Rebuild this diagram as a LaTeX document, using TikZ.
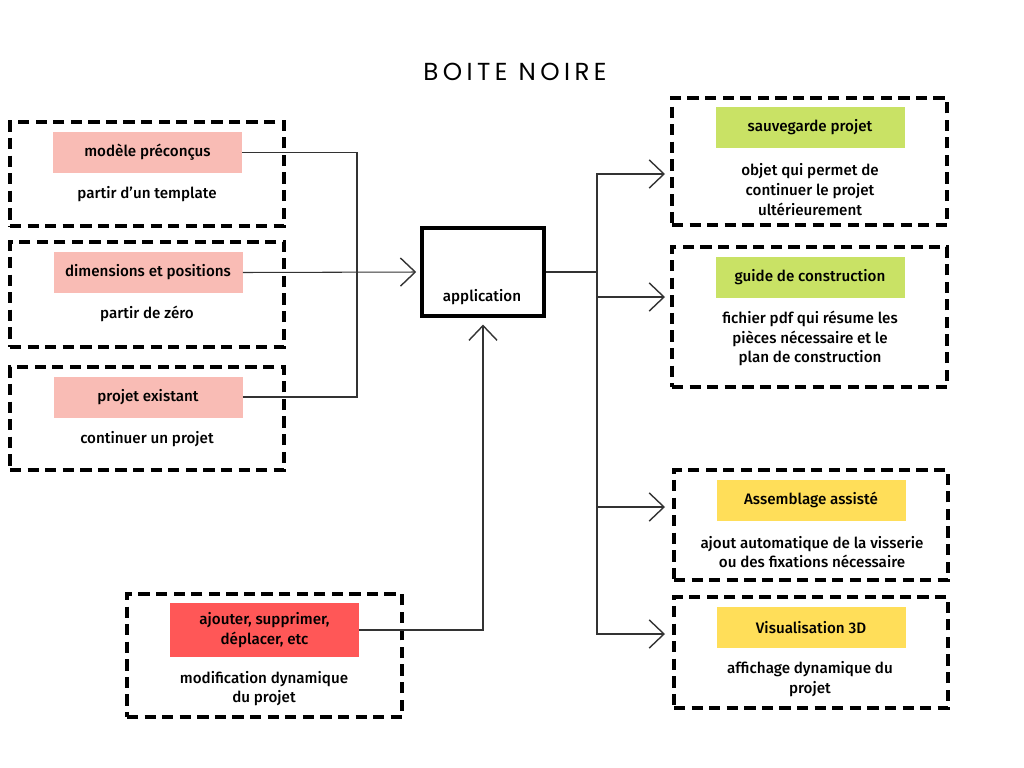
\documentclass[tikz,border=0pt]{standalone}
\usepackage{fontspec}
\setmainfont{Fira Sans}[UprightFont=* Medium]
\newfontfamily\titlefont{Poppins}[LetterSpace=18]
\usetikzlibrary{arrows.meta}
\def\px{0.025cm}
\definecolor{pinklbl}{HTML}{F9BCB5}
\definecolor{greenlbl}{HTML}{C9E265}
\definecolor{yellowlbl}{HTML}{FFDE59}
\definecolor{redlbl}{HTML}{FF5757}
\tikzset{
  dashbox/.style={draw, line width=2.7pt, dash pattern=on 8pt off 4.5pt, inner sep=0pt},
  lbl/.style={fill=#1, minimum width=189*\px, minimum height=41*\px, inner sep=0pt, align=center, font=\fontsize{10.8}{14}\selectfont},
  txt/.style={align=center, inner sep=0pt, font=\fontsize{10.8}{14}\selectfont},
  link/.style={draw=black!80, line width=0.75pt},
  arr/.style={link, -{Straight Barb[length=10.5pt, width=20pt, line width=1pt]}},
}
\begin{document}
\begin{tikzpicture}[x=0.025cm, y=-0.025cm]
		%%%%% START %%%%%
		\useasboundingbox (0, 0) rectangle (1024, 768);
		
		\node[font=\titlefont\fontsize{17.5}{19}\selectfont] (title) at (515, 72) {BOITE NOIRE};
		
		% entrees
		\node[dashbox, minimum width=274*\px, minimum height=104*\px] (in1) at (147, 174) {};
		\node[lbl=pinklbl] (m1) at (147.5, 152.5) {modèle préconçus};
		\node[txt] (d1) at (147, 194) {partir d'un template};
		
		\node[dashbox, minimum width=274*\px, minimum height=105*\px] (in2) at (147, 294.5) {};
		\node[lbl=pinklbl] (m2) at (148, 272.5) {dimensions et positions};
		\node[txt] (d2) at (147, 314) {partir de zéro};
		
		\node[dashbox, minimum width=274*\px, minimum height=103*\px] (in3) at (147, 418.5) {};
		\node[lbl=pinklbl] (m3) at (148, 397) {projet existant};
		\node[txt] (d3) at (147, 439) {continuer un projet};
		
		\node[dashbox, minimum width=275*\px, minimum height=123*\px] (in4) at (264.5, 655.5) {};
		\node[lbl=redlbl, minimum width=189*\px, minimum height=54*\px] (m4) at (264.5, 630) {ajouter, supprimer,\\déplacer, etc};
		\node[txt] (d4) at (264, 688.5) {modification dynamique\\du projet};
		
		% application
		\node[draw, line width=2.2pt, minimum width=122*\px, minimum height=88*\px] (app) at (483, 272) {};
		\node[txt] (applbl) at (482, 297) {application};
		
		% sorties
		\node[dashbox, minimum width=275*\px, minimum height=127*\px] (out1) at (809.5, 161.5) {};
		\node[lbl=greenlbl] (s1) at (810, 127.5) {sauvegarde projet};
		\node[txt] (e1) at (810, 189.5) {objet qui permet de\\continuer le projet\\ultérieurement};
		
		\node[dashbox, minimum width=275*\px, minimum height=140*\px] (out2) at (809.5, 317) {};
		\node[lbl=greenlbl] (s2) at (810, 277) {guide de construction};
		\node[txt] (e2) at (810, 338.5) {fichier pdf qui résume les\\pièces nécessaire et le\\plan de construction};
		
		\node[dashbox, minimum width=274*\px, minimum height=110*\px] (out3) at (811, 525) {};
		\node[lbl=yellowlbl] (s3) at (811, 500) {Assemblage assisté};
		\node[txt] (e3) at (812, 552) {ajout automatique de la visserie\\ou des fixations nécessaire};
		
		\node[dashbox, minimum width=274*\px, minimum height=111*\px] (out4) at (811, 652.5) {};
		\node[lbl=yellowlbl] (s4) at (811, 627.5) {Visualisation 3D};
		\node[txt] (e4) at (810, 679) {affichage dynamique du\\projet};
		
		% liaisons
		\coordinate (jl) at (357, 272);
		\coordinate (jr) at (597, 272);
		\coordinate (t1) at (665, 174);
		\coordinate (t2) at (665, 297);
		\coordinate (t3) at (665, 507);
		\coordinate (t4) at (665, 634);
		
		\draw[link] (m1.east) -| (jl);
		\draw[link] (m3.east) -| (jl);
		\draw[arr, shorten >=3pt] (m2.east) -- (app.west);
		\draw[arr, shorten >=5pt] (m4.east) -| (app.south);
		
		\draw[link] (app.east) -- (jr);
		\draw[arr] (jr) |- (t1);
		\draw[arr] (jr) |- (t2);
		\draw[arr] (jr) |- (t3);
		\draw[arr] (jr) |- (t4);
		
		%%%%% END %%%%%
	\end{tikzpicture}
\end{document}
